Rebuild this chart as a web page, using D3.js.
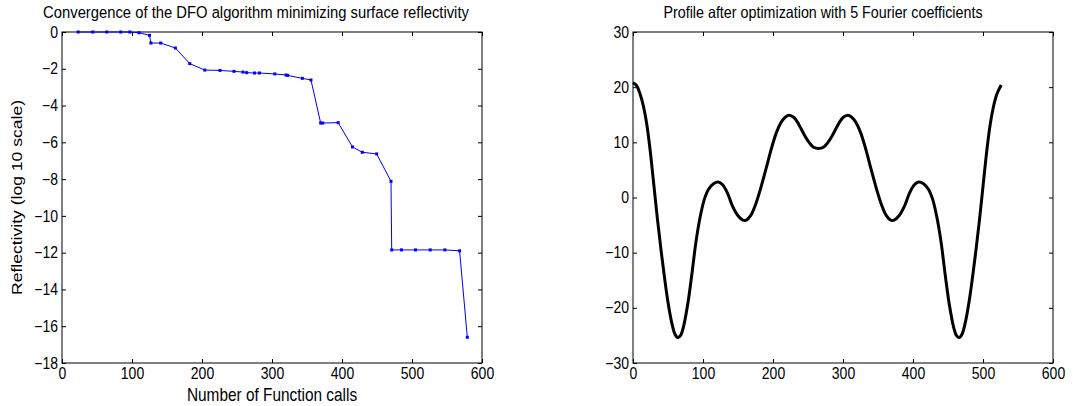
<!DOCTYPE html>
<html><head><meta charset="utf-8">
<script src="https://cdn.jsdelivr.net/npm/d3@7"></script>
<style>
body{margin:0;background:#fff;}
svg{display:block;font-family:"Liberation Sans",Arial,sans-serif;}
.tick text{font-size:14px;fill:#000;}
</style></head><body>
<svg id="c" width="1073" height="406"></svg>
<script>
// ---- Left chart data ----
const convCalls = [23,44,64,84,97,110,125,127,141,162,182.5,204,225.7,245.7,258.5,263.8,275,282,304,320,322.4,343.3,355.7,369.5,372.4,394.5,415,429,449.5,470,471,485,505,526,547,568,579];
const convRefl  = [0,0,0,0,0,-0.04,-0.18,-0.6,-0.6,-0.87,-1.72,-2.07,-2.09,-2.14,-2.18,-2.21,-2.23,-2.23,-2.28,-2.34,-2.36,-2.52,-2.61,-4.95,-4.95,-4.93,-6.25,-6.54,-6.63,-8.12,-11.85,-11.85,-11.85,-11.85,-11.85,-11.9,-16.6];
const leftXTicks = [0,100,200,300,400,500,600];
const leftYTicks = [0,-2,-4,-6,-8,-10,-12,-14,-16,-18];

// ---- Right chart data ----
const profX = [0,5,10,15,20,25,30,35,40,45,50,55,60,64,68,72,78,84,90,96,102,108,115,122,128,135,142,150,157,162,168,175,182,190,198,205,212,218,223,230,237,245,252,258,265,272,278,285,293,300,307,312,318,325,332,340,348,355,362,368,373,380,388,395,402,408,415,422,428,434,440,446,452,458,462,466,470,475,480,485,490,495,500,505,510,515,520,526];
const profY = [20.8,20.3,18.8,16.5,13,8,2,-4,-9.5,-14.5,-19,-22.5,-24.8,-25.4,-25,-23.5,-19.5,-14,-8,-3.5,-0.3,1.5,2.5,2.8,2.3,0.8,-1.5,-3.3,-4.1,-4.1,-3.3,-1.3,1.5,5.2,9,11.8,13.7,14.6,14.9,14.5,13.2,11.3,9.9,9.1,8.9,9.1,9.9,11.3,13.2,14.5,14.9,14.6,13.7,11.8,9,5.2,1.5,-1.3,-3.3,-4.1,-4.1,-3.3,-1.5,0.8,2.3,2.8,2.5,1.5,-0.3,-3.5,-8,-14,-19.5,-23.5,-25,-25.4,-24.8,-22.5,-19,-14.5,-9.5,-4,2,8,13,16.5,18.8,20.4];
const rightXTicks = [0,100,200,300,400,500,600];
const rightYTicks = [-30,-20,-10,0,10,20,30];

const titles = ["Convergence of the DFO algorithm minimizing surface reflectivity","Profile after optimization with 5 Fourier coefficients"];
const xLabelLeft = "Number of Function calls";
const yLabelLeft = "Reflectivity (log 10 scale)";

const SY = 1.14; // vertical stretch of text seen in the reference
const svg = d3.select("#c");
const fmt = d => (d<0 ? "\u2212"+Math.abs(d) : String(d));

function frame(g, x, y, xt, yt, w, h){
  const bx = g.append("g").attr("transform",`translate(0,${h})`)
    .call(d3.axisBottom(x).tickValues(xt).tickSize(-4).tickPadding(4).tickFormat(fmt))
    .call(s=>s.select(".domain").remove());
  bx.selectAll(".tick text").attr("transform",`scale(1,${SY})`);
  g.append("g").call(d3.axisTop(x).tickValues(xt).tickSize(-4).tickFormat(""))
    .call(s=>s.select(".domain").remove());
  const ly = g.append("g").call(d3.axisLeft(y).tickValues(yt).tickSize(-4).tickPadding(4).tickFormat(fmt))
    .call(s=>s.select(".domain").remove());
  ly.selectAll(".tick text").attr("transform",`scale(1,${SY})`);
  g.append("g").attr("transform",`translate(${w},0)`).call(d3.axisRight(y).tickValues(yt).tickSize(-4).tickFormat(""))
    .call(s=>s.select(".domain").remove());
  g.append("rect").attr("width",w).attr("height",h).attr("fill","none").attr("stroke","#000").attr("stroke-width",1);
  g.selectAll(".tick line").attr("stroke","#000");
}
function htext(x,y,size,str){
  svg.append("text").attr("transform",`translate(${x},${y}) scale(1,${SY})`)
    .attr("text-anchor","middle").attr("font-size",size).attr("fill","#000").text(str);
}

// Left
{
  const L=62, T=32, W=420, H=331;
  const g = svg.append("g").attr("transform",`translate(${L},${T})`);
  const x = d3.scaleLinear().domain([0,600]).range([0,W]);
  const y = d3.scaleLinear().domain([-18,0]).range([H,0]);
  frame(g,x,y,leftXTicks,leftYTicks,W,H);
  const pts = convCalls.map((c,i)=>[c,convRefl[i]]);
  g.append("path").datum(pts).attr("fill","none").attr("stroke","#0000ff").attr("stroke-width",1)
    .attr("d",d3.line().x(d=>x(d[0])).y(d=>y(d[1])));
  g.selectAll("rect.m").data(pts).join("rect").attr("class","m")
    .attr("x",d=>x(d[0])-1.5).attr("y",d=>y(d[1])-1.5).attr("width",3).attr("height",3).attr("fill","#0000ff");
  htext(L+W/2-16,18,14.8,titles[0]);
  htext(L+W/2,401,15.4,xLabelLeft);
  svg.append("text").attr("transform",`translate(22,${T+H/2}) scale(1,${SY}) rotate(-90)`)
    .attr("text-anchor","middle").attr("font-size",15.4).attr("fill","#000").text(yLabelLeft);
}
// Right
{
  const L=633, T=32, W=420, H=331;
  const g = svg.append("g").attr("transform",`translate(${L},${T})`);
  const x = d3.scaleLinear().domain([0,600]).range([0,W]);
  const y = d3.scaleLinear().domain([-30,30]).range([H,0]);
  frame(g,x,y,rightXTicks,rightYTicks,W,H);
  const pts = profX.map((c,i)=>[c,profY[i]]);
  g.append("path").datum(pts).attr("fill","none").attr("stroke","#000").attr("stroke-width",3)
    .attr("d",d3.line().curve(d3.curveCatmullRom).x(d=>x(d[0])).y(d=>y(d[1])));
  htext(L+W/2-20,18,14.3,titles[1]);
}
</script></body></html>
